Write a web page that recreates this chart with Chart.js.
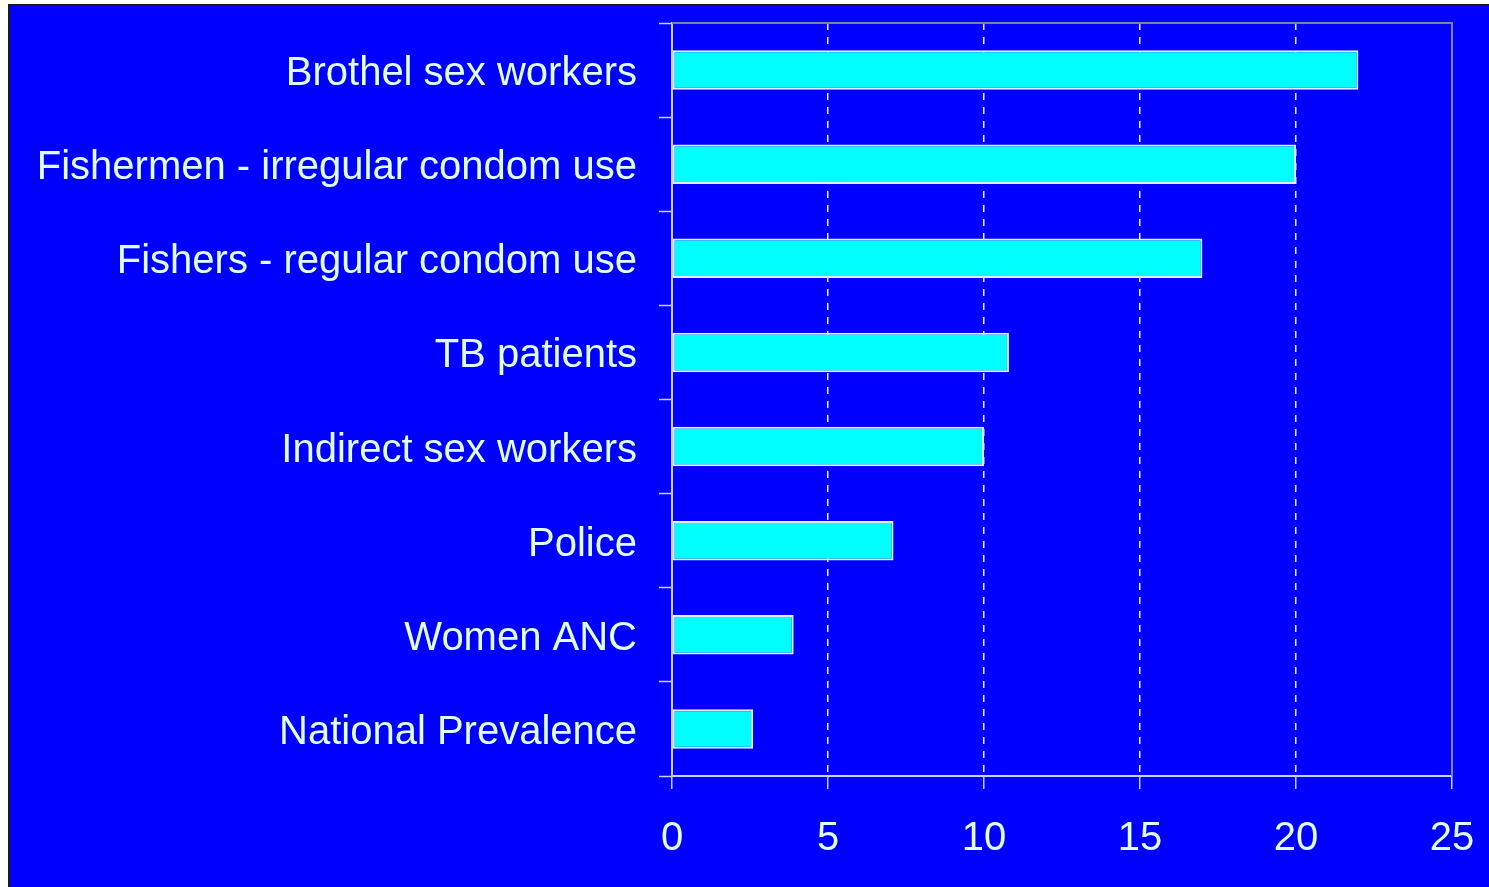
<!DOCTYPE html>
<html lang="en">
<head>
    <meta charset="UTF-8">
    <title>Prevalence by group</title>
    <script src="https://cdn.jsdelivr.net/npm/chart.js"></script>
    <style>
        html, body { margin: 0; padding: 0; background: #ffffff; overflow: hidden; }
        #frame {
            position: absolute; left: 8px; top: 4px;
            border-left: 2px solid #1a1a1a; border-top: 2px solid #1a1a1a;
            background: #0000ff; width: 1479px; height: 881px;
        }
        canvas { display: block; }
    </style>
</head>
<body>
    <div id="frame">
        <canvas id="prevChart" width="1479" height="881"></canvas>
    </div>

    <script>
        // Groups, top to bottom
        const groups = [
            'Brothel sex workers',
            'Fishermen - irregular condom use',
            'Fishers - regular condom use',
            'TB patients',
            'Indirect sex workers',
            'Police',
            'Women ANC',
            'National Prevalence'
        ];
        const prevalence = [22, 20, 17, 10.8, 10, 7.1, 3.9, 2.6];
        const xTicks = [0, 5, 10, 15, 20, 25];

        const lightText = '#e0ffff';
        const axisLine = '#c8d0ff';

        // gray frame on top and right of the plot area
        const plotFrame = {
            id: 'plotFrame',
            beforeDatasetsDraw(chart) {
                const a = chart.chartArea;
                const ctx = chart.ctx;
                ctx.save();
                ctx.strokeStyle = '#8080a0';
                ctx.lineWidth = 2;
                ctx.beginPath();
                ctx.moveTo(a.left, a.top);
                ctx.lineTo(a.right, a.top);
                ctx.lineTo(a.right, a.bottom);
                ctx.stroke();
                ctx.restore();
            }
        };

        const ctx = document.getElementById('prevChart').getContext('2d');
        new Chart(ctx, {
            type: 'bar',
            data: {
                labels: groups,
                datasets: [{
                    data: prevalence,
                    backgroundColor: '#00ffff',
                    borderColor: '#e0ecff',
                    borderWidth: 2,
                    borderSkipped: false,
                    categoryPercentage: 1,
                    barPercentage: 0.42
                }]
            },
            options: {
                indexAxis: 'y',
                responsive: false,
                animation: false,
                layout: { padding: { top: 17, right: 37, left: 0, bottom: 0 } },
                plugins: { legend: { display: false }, tooltip: { enabled: false } },
                scales: {
                    x: {
                        min: 0,
                        max: 25,
                        afterBuildTicks: scale => { scale.ticks = xTicks.map(v => ({ value: v })); },
                        afterFit: scale => {
                            scale.height = 111;
                            scale.paddingLeft = 0;
                            scale.paddingRight = 0;
                        },
                        ticks: {
                            color: lightText,
                            padding: 26,
                            font: { family: 'Liberation Sans, Arial, sans-serif', size: 40 }
                        },
                        grid: {
                            color: c => (c.tick && (c.tick.value === 0 || c.tick.value === 25)) ? 'rgba(0,0,0,0)' : '#f0f0ff',
                            lineWidth: 1.5,
                            tickColor: axisLine,
                            tickLength: 13,
                            tickWidth: 1.5
                        },
                        border: { color: axisLine, width: 2, dash: [7, 7] }
                    },
                    y: {
                        afterFit: scale => {
                            scale.width = 662;
                            scale.paddingTop = 0;
                            scale.paddingBottom = 0;
                        },
                        ticks: {
                            color: lightText,
                            padding: 22,
                            labelOffset: 4,
                            font: { family: 'Liberation Sans, Arial, sans-serif', size: 40 }
                        },
                        grid: {
                            drawOnChartArea: false,
                            tickColor: axisLine,
                            tickLength: 13,
                            tickWidth: 1.5
                        },
                        border: { color: axisLine, width: 2 }
                    }
                }
            },
            plugins: [plotFrame]
        });
    </script>
</body>
</html>
